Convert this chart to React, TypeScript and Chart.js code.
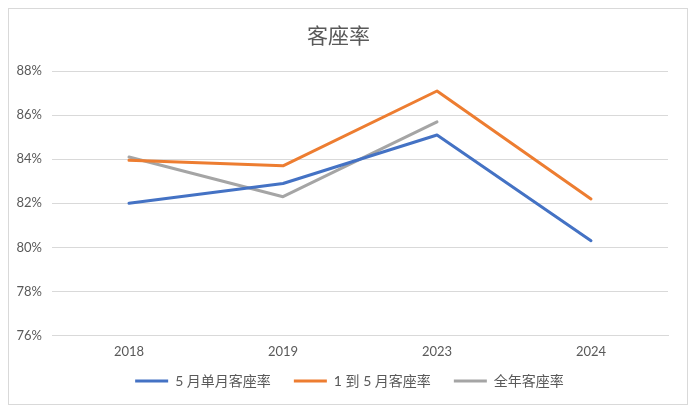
import React, { useEffect, useRef } from "react";
import { Chart, registerables } from "chart.js";

Chart.register(...registerables);

const categories = ["2018", "2019", "2023", "2024"];
const mayRate = [82.0, 82.9, 85.1, 80.3];
const janToMayRate = [83.95, 83.7, 87.1, 82.2];
const fullYearRate = [84.1, 82.3, 85.7, null];
const seriesNames = ["5 月单月客座率", "1 到 5 月客座率", "全年客座率"];
const seriesColors = ["#4472C4", "#ED7D31", "#A5A5A5"];
const yTicks = [76, 78, 80, 82, 84, 86, 88];

const FONT = 'Lato, "Noto Sans CJK SC", sans-serif';

const X_SQUEEZE = 18;

const layoutTweaks = {
  id: "layoutTweaks",
  afterLayout(chart: any) {
    if (chart.legend) {
      chart.legend.left += 11;
      chart.legend.right += 11;
    }
    const x = chart.scales.x;
    if (x) {
      x.bottom += X_SQUEEZE;
    }
  },
};

export default function App() {
  const ref = useRef<HTMLCanvasElement | null>(null);

  useEffect(() => {
    if (!ref.current) return;
    const values = [mayRate, janToMayRate, fullYearRate];
    const chart = new Chart(ref.current, {
      type: "line",
      data: {
        labels: categories,
        datasets: seriesNames.map((name, i) => ({
          label: name,
          data: values[i],
          borderColor: seriesColors[i],
          backgroundColor: seriesColors[i],
          borderWidth: 3,
          pointRadius: 0,
          pointHoverRadius: 0,
          tension: 0,
          borderCapStyle: "round" as const,
          borderJoinStyle: "round" as const,
          spanGaps: false,
        })),
      },
      plugins: [layoutTweaks],
      options: {
        animation: false,
        responsive: false,
        maintainAspectRatio: false,
        layout: { padding: { left: 0, right: 19, top: 0, bottom: 6 } },
        plugins: {
          title: {
            display: true,
            text: "客座率",
            color: "#595959",
            font: { family: FONT, size: 21, weight: "normal" },
            padding: { top: 15, bottom: 22 },
          },
          legend: {
            position: "bottom",
            labels: {
              color: "#595959",
              font: { family: FONT, size: 14 },
              boxWidth: 33,
              boxHeight: 3,
              padding: 23,
              generateLabels: (c: any) =>
                Chart.defaults.plugins.legend.labels
                  .generateLabels(c)
                  .map((l: any) => ({ ...l, lineWidth: 0, fillStyle: l.strokeStyle })),
            },
          },
          tooltip: { enabled: false },
        },
        scales: {
          x: {
            offset: true,
            afterFit: (s: any) => {
              s.height -= X_SQUEEZE;
            },
            grid: { display: false, drawTicks: false },
            border: { display: true, color: "#D9D9D9", width: 1 },
            ticks: {
              color: "#595959",
              font: { family: FONT, size: 13 },
              padding: 9,
              maxRotation: 0,
            },
          },
          y: {
            min: 76,
            max: 88,
            afterFit: (s: any) => {
              s.width = 43;
            },
            afterBuildTicks: (s: any) => {
              s.ticks = yTicks.map((v) => ({ value: v }));
            },
            grid: { color: "#D9D9D9", drawTicks: false, lineWidth: 1 },
            border: { display: false },
            ticks: {
              color: "#595959",
              font: { family: FONT, size: 13 },
              padding: 10,
              callback: (v: any) => `${v}%`,
            },
          },
        },
      },
    });
    return () => chart.destroy();
  }, []);

  return (
    <div
      style={{
        width: 680,
        height: 397,
        border: "1px solid #D9D9D9",
        boxSizing: "border-box",
        background: "#fff",
      }}
    >
      <canvas ref={ref} width={678} height={395} style={{ display: "block" }} />
    </div>
  );
}
